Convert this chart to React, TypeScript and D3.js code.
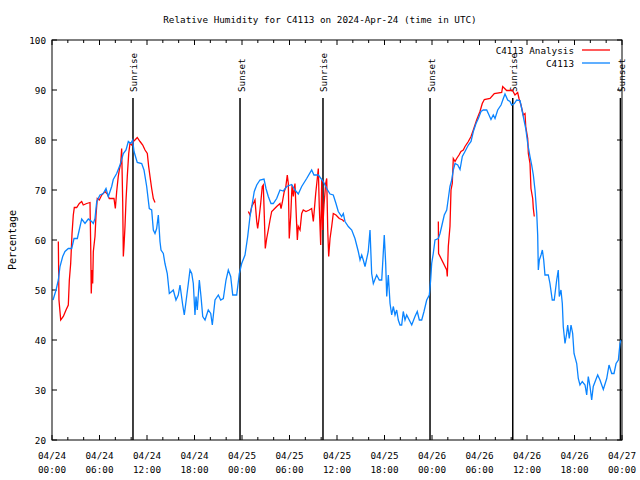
import React from "react";
import * as d3 from "d3";

// ---- data (hours since 2024-04-24 00:00 UTC) ----
const obsHours = [0.13,0.51,0.8,1.01,1.35,1.64,2.06,2.49,2.78,3.2,3.54,3.75,4.17,4.59,5.01,5.22,5.43,5.65,6.06,6.48,6.82,7.11,7.54,7.74,8.17,8.59,9.01,9.35,9.64,9.94,10.19,10.36,10.77,11.33,11.62,11.96,12.29,12.59,12.8,13.01,13.22,13.43,13.64,13.77,14.06,14.27,14.56,14.82,15.12,15.32,15.66,15.95,16.17,16.51,16.71,17.01,17.22,17.43,17.65,17.85,18.06,18.19,18.35,18.61,18.82,19.04,19.33,19.74,20.05,20.25,20.59,21.01,21.31,21.64,21.98,22.27,22.57,22.83,23.33,23.66,23.96,24.38,24.72,25.01,25.3,25.55,25.86,26.27,26.78,27.03,27.32,27.66,27.95,28.38,28.8,29.22,29.65,30.28,30.69,31.11,31.54,32.17,32.8,33.09,33.64,34.27,34.7,35.12,35.53,35.87,36.16,36.59,36.8,37.01,37.43,37.86,38.27,38.69,38.91,39.12,39.32,39.54,39.95,40.17,40.38,40.59,41.01,41.34,41.65,41.77,41.97,42.15,42.28,42.48,42.7,42.91,43.11,43.33,43.54,43.74,43.96,44.17,44.37,44.59,44.8,45.22,45.44,45.85,46.14,46.4,46.7,46.99,47.33,47.66,47.83,47.96,48.16,48.38,48.8,49.01,49.22,49.55,49.86,50.06,50.27,50.49,50.69,50.91,51.25,51.54,51.83,52.17,52.59,52.93,53.22,53.56,53.85,54.19,54.48,54.91,55.2,55.45,55.74,55.96,56.3,56.72,57.01,57.22,57.56,57.85,58.07,58.4,58.7,59.12,59.33,59.53,59.84,60.09,60.38,60.59,60.8,61.01,61.23,61.35,61.43,61.56,61.77,61.94,62.11,62.27,62.69,62.9,63.19,63.44,63.75,63.95,64.08,64.29,64.46,64.58,64.8,65.01,65.14,65.34,65.56,65.77,65.94,66.28,66.48,66.69,66.98,67.33,67.54,67.74,67.96,68.17,68.37,68.68,68.93,69.22,69.64,70.07,70.36,70.7,70.99,71.25,71.54,71.75,71.88];
const obsValues = [48,50,52,54.7,56.7,57.7,58.3,58.3,60.3,60.3,62.7,64.2,63.3,64.2,63.7,63.3,64.3,67.7,69,69.3,70.3,68.7,70.7,72.1,73.3,75,77.3,78,79.7,79.3,80,77.7,75.5,75.3,74,70.7,66.3,66,62,61.3,62.3,65,59.7,58,57.3,55.3,53.3,49.3,49.7,50,48,49,51,47,45,48.7,51.3,54,53.3,51.3,45,48.7,46,52,48.7,44.7,44,46,45.3,43,48,49,48,48.3,52,54,52.7,49,49,53.3,55.3,57,60.7,64.7,67.3,69.7,71,72,72.2,70.3,68.7,67.3,67.3,68.3,70,69.8,70.7,71.1,70,69.2,70.7,72.3,74,73,73,71.7,70.3,69.2,69,67.3,65.7,64.7,65.3,63.7,62.7,62,60.3,57.7,56,57,56,54.7,57.7,62,53.3,51.3,53,52,52,55.3,61,55.3,48.7,53,47.3,45,46.7,45,46,44,43,43,45.7,44,45,43.7,43,44.7,45.7,44,44,45.7,48,49,52,55.3,57.3,60,60.3,61.3,62.7,65,66,68.3,70.7,72,74,75.3,75,74.1,76.7,77.7,79,79.7,81.7,83.3,84.3,85.7,86,86,85,84.1,85,84.3,86,87,88.3,89.2,88,87.7,87,87.3,88,87.9,86.3,84.7,82.3,79.3,76.7,75,73,70,65.3,61,54,56,57,58,56,53,53,51.3,48,48,52,54,48.7,50,47.3,42.7,39.3,41.3,43,40.3,43,41.3,37.3,35.3,32.3,31,31.7,31,29,32.7,30.7,28,30.7,32,33,32,30.1,32.3,35,33.3,33.3,35.3,36,39.3,40];

const anaHours1 = [0.8,0.88,1.1,1.43,1.77,2.06,2.19,2.36,2.53,2.69,2.82,3.12,3.45,3.75,3.95,4.38,4.8,4.89,4.96,5.05,5.14,5.22,5.43,5.56,5.72,5.97,6.28,6.69,6.99,7.24,7.54,7.83,8.0,8.17,8.37,8.5,8.68,8.8,8.93,9.01,9.09,9.22,9.35,9.51,9.69,9.85,10.07,10.27,10.48,10.77,11.12,11.46,11.75,12.04,12.21,12.38,12.59,12.8,13.01];
const anaValues1 = [59.7,48,44,44.7,46,47,52,55.3,61.3,65,66.5,66.5,67.3,67.7,67,67.3,67.5,58.7,49.3,54,51.3,57.7,60.7,65,68.3,68,69,69.7,69.2,68.3,68.3,68.3,66.3,69.7,72.7,74,75.3,78.3,67.7,56.7,58.7,62.7,68,72.7,77.3,79.3,79,79.7,80,80.5,79.7,79,78,77.3,74.7,72.7,70.3,68.3,67.5];
const anaHours2 = [24.8,25.01,25.23,25.43,25.64,25.86,25.98,26.15,26.36,26.56,26.69,26.82,26.94,27.12,27.32,27.54,27.75,27.95,28.38,28.8,28.93,29.09,29.34,29.52,29.72,29.85,29.97,30.15,30.32,30.48,30.69,30.86,30.99,31.11,31.33,31.54,31.74,32.08,32.5,32.8,33.01,33.31,33.51,33.64,33.76,33.94,34.07,34.19,34.36,34.57,34.7,34.83,34.95,35.12,35.33,35.53,35.87,36.29,36.72,36.88];
const anaValues2 = [65.7,65,66.7,67.3,68,63.7,62.3,64.3,67.3,70.7,71,64.7,58.3,60.3,62,64,65.7,66,66.7,67.3,66.3,67.5,69.7,70.5,73,71.3,60.3,64.7,71,68.7,71.3,64.7,60,62.7,62,65.3,66,65.7,66,66.3,63.7,69.3,72.3,74.3,66.7,59,72,62,67,71.3,72.3,62,56.7,60.3,62.7,65.3,65,64.3,64,63.7];
const anaHours3 = [48.8,48.83,49.86,49.93,50.06,50.27,50.4,50.56,50.69,50.91,51.12,51.41,51.66,51.95,52.17,52.59,52.93,53.22,53.64,54.06,54.35,54.61,55.33,55.87,56.8,56.93,57.43,57.85,58.14,58.48,58.82,58.99,59.24,59.53,59.75,59.84,60.09,60.17,60.38,60.5,60.72,60.8,60.92];
const anaValues3 = [63.7,57.3,54,52.7,58.7,62.7,70,71.3,76.3,75.7,76.3,77,77.7,78,78.7,79.7,80.7,82,84,85.7,87.3,88.1,88.3,89.3,89.5,90.7,89.9,89.9,90,89,89.5,88.3,87,85,85.3,82.7,80.3,77.3,75.3,70.3,68.3,66.3,64.7];

const sunHours = [10.23, 23.75, 34.23, 47.75, 58.2, 71.8];
const sunLabels = ["Sunrise", "Sunset", "Sunrise", "Sunset", "Sunrise", "Sunset"];

const xTickHours = [0, 6, 12, 18, 24, 30, 36, 42, 48, 54, 60, 66, 72];
const xTickDates = ["04/24","04/24","04/24","04/24","04/25","04/25","04/25","04/25","04/26","04/26","04/26","04/26","04/27"];
const xTickTimes = ["00:00","06:00","12:00","18:00","00:00","06:00","12:00","18:00","00:00","06:00","12:00","18:00","00:00"];
const yTicks = [20, 30, 40, 50, 60, 70, 80, 90, 100];

const seriesNames = ["C4113 Analysis", "C4113"];
const RED = "#ff0000";
const BLUE = "#0a84ff";
const FONT = "'DejaVu Sans Mono', monospace";
const FS = 9.3;

export default function App() {
  const W = 640, H = 480;
  const L = 52, R = 622, T = 40, B = 440;
  const x = d3.scaleLinear().domain([0, 72]).range([L, R]);
  const y = d3.scaleLinear().domain([20, 100]).range([B, T]);

  const line = d3.line<[number, number]>().x(d => x(d[0])).y(d => y(d[1]));
  const pairs = (hs: number[], vs: number[]) => hs.map((h, i) => [h, vs[i]] as [number, number]);
  const minor = d3.range(0, 73, 2);

  return (
    <svg width={W} height={H} style={{ position: "absolute", left: 0, top: 0, background: "#fff" }} fontFamily={FONT} fontSize={FS}>
      <rect x={0} y={0} width={W} height={H} fill="#fff" />
      <text x={320} y={19} textAnchor="middle" dominantBaseline="central">Relative Humidity for C4113 on 2024-Apr-24 (time in UTC)</text>
      <text transform={`translate(12,${(T + B) / 2}) rotate(-90)`} textAnchor="middle" dominantBaseline="central" fontSize={10}>Percentage</text>

      {/* ticks */}
      {yTicks.map(v => (
        <g key={"y" + v}>
          <line x1={L} x2={L + 5} y1={y(v)} y2={y(v)} stroke="#000" />
          <line x1={R} x2={R - 5} y1={y(v)} y2={y(v)} stroke="#000" />
          <text x={L - 6} y={y(v)} textAnchor="end" dominantBaseline="central">{v}</text>
        </g>
      ))}
      {minor.map(h => {
        const major = h % 6 === 0;
        const len = major ? 5 : 3;
        return (
          <g key={"m" + h}>
            <line x1={x(h)} x2={x(h)} y1={B} y2={B - len} stroke="#000" />
            <line x1={x(h)} x2={x(h)} y1={T} y2={T + len} stroke="#000" />
          </g>
        );
      })}
      {xTickHours.map((h, i) => (
        <g key={"x" + i}>
          <text x={x(h)} y={455} textAnchor="middle" dominantBaseline="central">{xTickDates[i]}</text>
          <text x={x(h)} y={469} textAnchor="middle" dominantBaseline="central">{xTickTimes[i]}</text>
        </g>
      ))}

      {/* sun events */}
      {sunHours.map((h, i) => (
        <g key={"s" + i}>
          <line x1={x(h)} x2={x(h)} y1={98} y2={B} stroke="#000" strokeWidth={1.5} />
          <text transform={`translate(${x(h) + 1},92) rotate(-90)`} textAnchor="start" dominantBaseline="central">{sunLabels[i]}</text>
        </g>
      ))}

      {/* series */}
      {[pairs(anaHours1, anaValues1), pairs(anaHours2, anaValues2), pairs(anaHours3, anaValues3)].map((p, i) => (
        <path key={"a" + i} d={line(p) || ""} fill="none" stroke={RED} strokeWidth={1.3} />
      ))}
      <path d={line(pairs(obsHours, obsValues)) || ""} fill="none" stroke={BLUE} strokeWidth={1.3} />

      {/* legend */}
      <text x={574} y={50} textAnchor="end" dominantBaseline="central">{seriesNames[0]}</text>
      <line x1={582} x2={610} y1={50} y2={50} stroke={RED} strokeWidth={1.3} />
      <text x={574} y={63} textAnchor="end" dominantBaseline="central">{seriesNames[1]}</text>
      <line x1={582} x2={610} y1={63} y2={63} stroke={BLUE} strokeWidth={1.3} />

      <rect x={L} y={T} width={R - L} height={B - T} fill="none" stroke="#000" strokeWidth={1} />
    </svg>
  );
}
